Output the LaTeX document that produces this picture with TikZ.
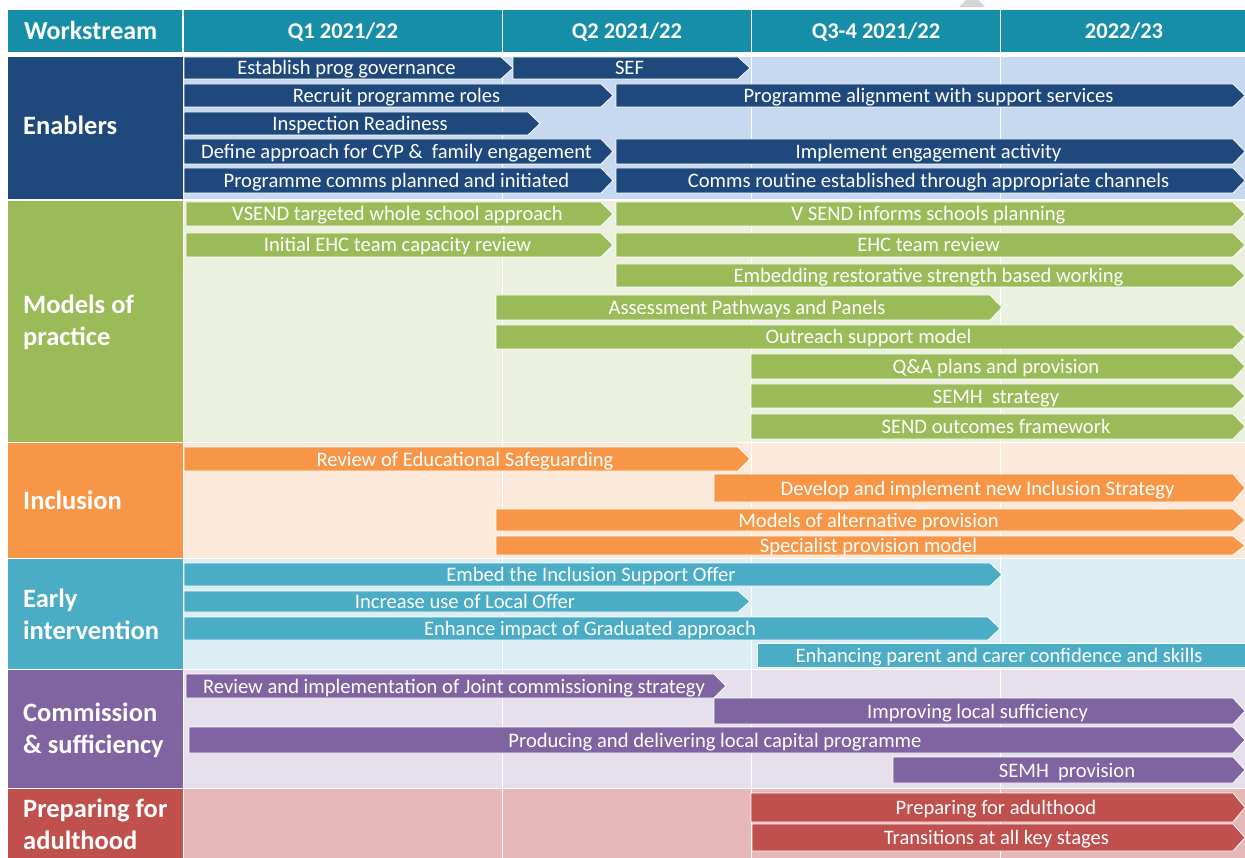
\documentclass[tikz,border=0pt]{standalone}
\usepackage{fontspec}
\setmainfont{Carlito}

% theme colours
\definecolor{hdrteal}{HTML}{178EA8}
\definecolor{navy}{HTML}{1F497D}
\definecolor{navybg}{HTML}{C6D9F1}
\definecolor{leaf}{HTML}{9BBB59}
\definecolor{leafbg}{HTML}{EBF1DE}
\definecolor{amber}{HTML}{F79646}
\definecolor{amberbg}{HTML}{FDE9D9}
\definecolor{aqua}{HTML}{4BACC6}
\definecolor{aquabg}{HTML}{DAEEF3}
\definecolor{plum}{HTML}{8064A2}
\definecolor{plumbg}{HTML}{E5E0EC}
\definecolor{brick}{HTML}{C0504D}
\definecolor{brickbg}{HTML}{E6B9B8}
\definecolor{markgrey}{HTML}{D4D4D4}

\tikzset{
  barlabel/.style={text=white, font=\fontsize{20.6}{24}\selectfont, anchor=base, inner sep=0pt},
  headlabel/.style={text=white, font=\bfseries\fontsize{22.5}{26}\selectfont, anchor=base, inner sep=0pt},
  seclabel/.style={text=white, font=\bfseries\fontsize{26.5}{32}\selectfont, anchor=base west, inner sep=0pt},
  gridline/.style={white, line width=1.5pt},
  barshape/.style={draw=white, line width=0.8pt, line join=miter},
}

% activity bar: name, x-start, x-end, y-top, y-bottom, tip depth, colour, text
\newcommand{\ganttbar}[8]{%
  \fill[#7, barshape] (#2,#4) -- ({#3-#6},#4) -- (#3,{(#4+#5)/2}) -- ({#3-#6},#5) -- (#2,#5) -- cycle;
  \node[barlabel] (#1) at ({(#2+#3)/2-2},{(#4+#5)/2+7}) {#8};
}

% workstream band: y-top, y-bottom, strong colour, pale colour
\newcommand{\band}[4]{%
  \fill[#3] (8,#1) rectangle (182.5,#2);
  \fill[#4] (184,#1) rectangle (1245,#2);
  \draw[gridline] (502.7,#1) -- (502.7,#2);
  \draw[gridline] (751.7,#1) -- (751.7,#2);
  \draw[gridline] (1000.7,#1) -- (1000.7,#2);
}

\begin{document}
\begin{tikzpicture}[x=1pt,y=-1pt]
\useasboundingbox (0,0) rectangle (1245,858);
\fill[white] (0,0) rectangle (1245,858);

% small grey marker above the header
\fill[markgrey] (959,7) -- (985,7) -- (978,0) -- (966,0) -- cycle;

% header row
\fill[hdrteal] (8,10) rectangle (1245,52);
\draw[gridline] (183.2,10) -- (183.2,52);
\draw[gridline] (502.7,10) -- (502.7,52);
\draw[gridline] (751.7,10) -- (751.7,52);
\draw[gridline] (1000.7,10) -- (1000.7,52);
\node[text=white, font=\bfseries\fontsize{26}{30}\selectfont, anchor=base west, inner sep=0pt] (hws) at (24,39.5) {Workstream};
\node[headlabel] (hq1) at (343,38.5) {Q1 2021/22};
\node[headlabel] (hq2) at (627,38.5) {Q2 2021/22};
\node[headlabel] (hq3) at (876,38.5) {Q3-4 2021/22};
\node[headlabel] (hy2) at (1124,38.5) {2022/23};

% workstream bands
\band{57}{199}{navy}{navybg}
\band{201}{441.5}{leaf}{leafbg}
\band{443}{557.5}{amber}{amberbg}
\band{559}{668.5}{aqua}{aquabg}
\band{670}{787.5}{plum}{plumbg}
\band{789}{858}{brick}{brickbg}

% workstream names
\node[seclabel] (sEn) at (23,135) {Enablers};
\node[seclabel] (sMo1) at (23,314) {Models of};
\node[seclabel] (sMo2) at (23,346) {practice};
\node[seclabel] (sIn) at (23,509) {Inclusion};
\node[seclabel] (sEa1) at (23,607) {Early};
\node[seclabel] (sEa2) at (23,639) {intervention};
\node[seclabel] (sCo1) at (23,721) {Commission};
\node[seclabel] (sCo2) at (23,753) {\& sufficiency};
\node[seclabel] (sPr1) at (23,817) {Preparing for};
\node[seclabel] (sPr2) at (23,849) {adulthood};

% Enablers
\ganttbar{gov}{184}{513}{57}{79}{12}{navy}{Establish prog governance}
\ganttbar{sef}{513}{750}{57}{79}{12}{navy}{SEF}
\ganttbar{recruit}{184}{613}{84}{107}{12}{navy}{Recruit programme roles}
\ganttbar{align}{616}{1245}{84}{107}{12}{navy}{Programme alignment with support services}
\ganttbar{inspect}{184}{540}{112}{135}{12}{navy}{Inspection Readiness}
\ganttbar{define}{184}{613}{139}{164}{12}{navy}{Define approach for CYP \&\ \ family engagement}
\ganttbar{engage}{616}{1245}{139}{164}{12}{navy}{Implement engagement activity}
\ganttbar{commsA}{184}{613}{168}{193}{12}{navy}{Programme comms planned and initiated}
\ganttbar{commsB}{616}{1245}{168}{193}{12}{navy}{Comms routine established through appropriate channels}

% Models of practice
\ganttbar{vsend}{186}{613}{202}{226}{12}{leaf}{VSEND targeted whole school approach}
\ganttbar{vsendB}{616}{1245}{202}{226}{12}{leaf}{V SEND informs schools planning}
\ganttbar{ehcA}{186}{613}{233}{257}{12}{leaf}{Initial EHC team capacity review}
\ganttbar{ehcB}{616}{1245}{233}{257}{12}{leaf}{EHC team review}
\ganttbar{restore}{616}{1245}{264}{287}{12}{leaf}{Embedding restorative strength based working}
\ganttbar{assess}{496}{1002}{295}{320}{12}{leaf}{Assessment Pathways and Panels}
\ganttbar{outreach}{496}{1245}{325}{349}{12}{leaf}{Outreach support model}
\ganttbar{qa}{751}{1245}{354}{379}{12}{leaf}{Q\&A plans and provision}
\ganttbar{semh}{751}{1245}{384}{408}{12}{leaf}{SEMH\ \ strategy}
\ganttbar{outcomes}{751}{1245}{414}{439}{12}{leaf}{SEND outcomes framework}

% Inclusion
\ganttbar{safeg}{184}{750}{447}{471}{12}{amber}{Review of Educational Safeguarding}
\ganttbar{incstrat}{714}{1245}{474}{502}{12}{amber}{Develop and implement new Inclusion Strategy}
\ganttbar{altprov}{496}{1245}{509}{531}{12}{amber}{Models of alternative provision}
\ganttbar{specprov}{496}{1245}{536}{555}{12}{amber}{Specialist provision model}

% Early intervention
\ganttbar{iso}{184}{1002}{563}{586}{12}{aqua}{Embed the Inclusion Support Offer}
\ganttbar{localoffer}{184}{750}{591}{612}{12}{aqua}{Increase use of Local Offer}
\ganttbar{graduated}{184}{1000}{617}{640}{12}{aqua}{Enhance impact of Graduated approach}
\ganttbar{parents}{757}{1245}{643}{667}{0}{aqua}{Enhancing parent and carer confidence and skills}

% Commission & sufficiency
\ganttbar{joint}{186}{726}{674}{698}{12}{plum}{Review and implementation of Joint commissioning strategy}
\ganttbar{suff}{714}{1245}{698}{724}{12}{plum}{Improving local sufficiency}
\ganttbar{capital}{189}{1245}{727}{753}{12}{plum}{Producing and delivering local capital programme}
\ganttbar{semhprov}{893}{1245}{757}{783}{12}{plum}{SEMH\ \ provision}

% Preparing for adulthood
\ganttbar{pfa}{751}{1245}{793}{822}{12}{brick}{Preparing for adulthood}
\ganttbar{trans}{752}{1245}{824}{851}{12}{brick}{Transitions at all key stages}
\end{tikzpicture}
\end{document}
